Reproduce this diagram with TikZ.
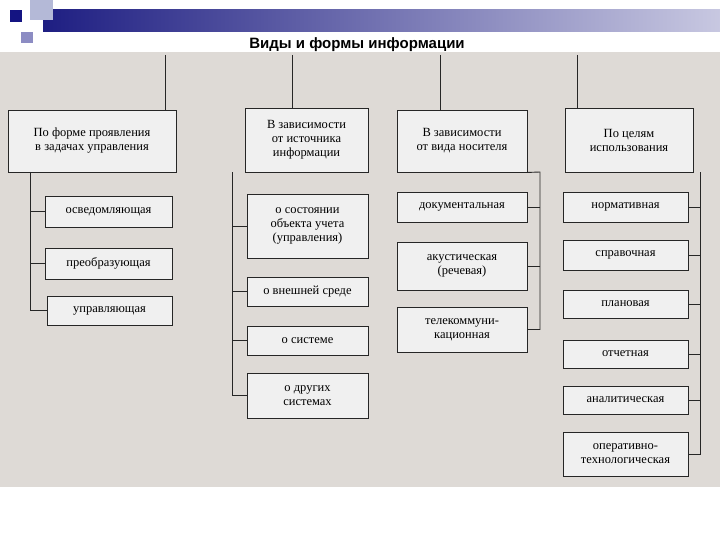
\documentclass[tikz,border=0pt]{standalone}
\usepackage{fontspec}
\setmainfont{Liberation Serif}
\newfontfamily\titlefont{Liberation Sans}
\definecolor{navy}{RGB}{30,30,130}
\definecolor{palebar}{RGB}{200,200,225}
\definecolor{sqa}{RGB}{180,185,215}
\definecolor{sqb}{RGB}{20,20,130}
\definecolor{sqc}{RGB}{140,140,195}
\definecolor{scan}{RGB}{222,218,214}
\begin{document}
\begin{tikzpicture}[x=1pt,y=-1pt,
  bx/.style={draw=black!85,line width=0.9pt,fill=white!88!gray,align=center,font=\fontsize{12.5}{14}\selectfont,inner sep=1pt},
  ln/.style={black!85,line width=0.9pt}]
\useasboundingbox (0,0) rectangle (720,540);
\fill[white] (0,0) rectangle (720,540);
% decoration
\shade[left color=navy,right color=palebar] (43,10) rectangle (720,32);
\fill[sqa] (30,0) rectangle (53,20);
\fill[sqb] (10,10) rectangle (22,22);
\fill[sqc] (21,32) rectangle (33,43);
% scan background
\fill[scan] (0,52) rectangle (720,487);
\node[font=\titlefont\bfseries\fontsize{15}{17}\selectfont] (title) at (357,45) {Виды и формы информации};
% headers
\node[bx,minimum width=168,minimum height=62] (h1) at (92,141) {По форме проявления\\в задачах управления};
\node[bx,minimum width=123,minimum height=64] (h2) at (306.5,140) {В зависимости\\от источника\\информации};
\node[bx,minimum width=130,minimum height=62] (h3) at (462,141) {В зависимости\\от вида носителя};
\node[bx,minimum width=128,minimum height=64] (h4) at (629,140) {По целям\\использования};
\coordinate (t1) at (165,55); \coordinate (t2) at (292,55);
\coordinate (t3) at (440,55); \coordinate (t4) at (577,55);
\draw[ln] (t1) -- (t1 |- h1.north);
\draw[ln] (t2) -- (t2 |- h2.north);
\draw[ln] (t3) -- (t3 |- h3.north);
\draw[ln] (t4) -- (t4 |- h4.north);
% column 1
\node[bx,minimum width=127,minimum height=31] (a1) at (108.5,211.5) {осведомляющая};
\node[bx,minimum width=127,minimum height=31] (a2) at (108.5,263.5) {преобразующая};
\node[bx,minimum width=125,minimum height=29] (a3) at (109.5,310.5) {управляющая};
\coordinate (s1) at (30,172);
\draw[ln] (s1) -- (s1 |- a3.west) -- (a3.west);
\draw[ln] (s1 |- a1.west) -- (a1.west);
\draw[ln] (s1 |- a2.west) -- (a2.west);
% column 2
\node[bx,minimum width=121,minimum height=64] (b1) at (307.5,226) {о состоянии\\объекта учета\\(управления)};
\node[bx,minimum width=121,minimum height=29] (b2) at (307.5,291.5) {о внешней среде};
\node[bx,minimum width=121,minimum height=29] (b3) at (307.5,340.5) {о системе};
\node[bx,minimum width=121,minimum height=45] (b4) at (307.5,395.5) {о других\\системах};
\coordinate (s2) at (232,172);
\draw[ln] (s2 |- h2.south) -- (s2 |- b4.west) -- (b4.west);
\draw[ln] (s2 |- b1.west) -- (b1.west);
\draw[ln] (s2 |- b2.west) -- (b2.west);
\draw[ln] (s2 |- b3.west) -- (b3.west);
% column 3
\node[bx,minimum width=130,minimum height=30] (c1) at (462,207) {документальная};
\node[bx,minimum width=130,minimum height=48] (c2) at (462,266) {акустическая\\(речевая)};
\node[bx,minimum width=130,minimum height=45] (c3) at (462,329.5) {телекоммуни-\\кационная};
\coordinate (s3) at (540,172);
\draw[ln] (h3.south east) -- (s3) -- (s3 |- c3.east) -- (c3.east);
\draw[ln] (s3 |- c1.east) -- (c1.east);
\draw[ln] (s3 |- c2.east) -- (c2.east);
% column 4
\node[bx,minimum width=125,minimum height=30] (d1) at (625.5,207) {нормативная};
\node[bx,minimum width=125,minimum height=30] (d2) at (625.5,255) {справочная};
\node[bx,minimum width=125,minimum height=28] (d3) at (625.5,304) {плановая};
\node[bx,minimum width=125,minimum height=28] (d4) at (625.5,354) {отчетная};
\node[bx,minimum width=125,minimum height=28] (d5) at (625.5,400) {аналитическая};
\node[bx,minimum width=125,minimum height=44] (d6) at (625.5,454) {оперативно-\\технологическая};
\coordinate (s4) at (700,172);
\draw[ln] (s4 |- h4.south) -- (s4 |- d6.east) -- (d6.east);
\foreach \n in {d1,d2,d3,d4,d5} \draw[ln] (s4 |- \n.east) -- (\n.east);
\end{tikzpicture}
\end{document}
